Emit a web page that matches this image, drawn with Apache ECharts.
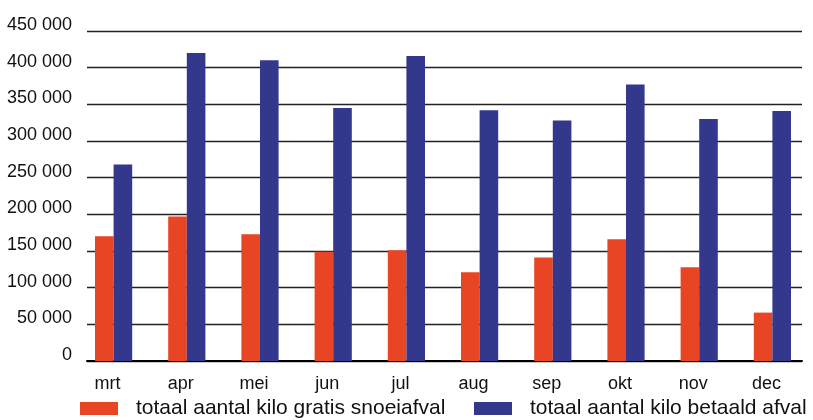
<!DOCTYPE html>
<html>
<head>
<meta charset="utf-8">
<script src="https://cdn.jsdelivr.net/npm/echarts@6/dist/echarts.min.js"></script>
<style>
  html, body { margin: 0; padding: 0; background: #fff; }
  #chart { width: 813px; height: 420px; }
</style>
</head>
<body>
<div id="chart"></div>
<script>
var months = ['mrt', 'apr', 'mei', 'jun', 'jul', 'aug', 'sep', 'okt', 'nov', 'dec'];
var gratisSnoei = [170000, 197000, 173000, 149000, 151000, 121000, 141000, 166000, 128000, 66000];
var betaaldAfval = [268000, 420000, 410000, 345000, 416000, 342000, 328000, 377000, 330000, 341000];
var seriesNames = ['totaal aantal kilo gratis snoeiafval', 'totaal aantal kilo betaald afval'];
var yMax = 450000;
var yStep = 50000;

var font = '"Liberation Sans", Arial, sans-serif';

var chart = echarts.init(document.getElementById('chart'));
var option = {
    backgroundColor: '#fff',
    animation: false,
    grid: [
        // gridlines + y labels
        { left: 87, right: 11, top: 31, bottom: 59 },
        // bars
        { left: 77, right: 4, top: 31, bottom: 59 }
    ],
    legend: [{
        data: [seriesNames[0]],
        left: 80, top: 398,
        padding: 0,
        itemWidth: 38, itemHeight: 13,
        icon: 'rect',
        textStyle: { fontFamily: font, fontSize: 21, color: '#111', padding: [0, 0, 0, 13] }
    }, {
        data: [seriesNames[1]],
        left: 474, top: 398,
        padding: 0,
        itemWidth: 38, itemHeight: 13,
        icon: 'rect',
        textStyle: { fontFamily: font, fontSize: 21, color: '#111', padding: [0, 0, 0, 13] }
    }],
    xAxis: [{
        gridIndex: 0,
        type: 'category',
        data: months,
        axisLine: { lineStyle: { color: '#000', width: 2 } },
        axisTick: { show: false },
        axisLabel: { show: false }
    }, {
        gridIndex: 1,
        type: 'category',
        data: months,
        axisLine: { show: false },
        axisTick: { show: false },
        axisLabel: {
            fontFamily: font, fontSize: 18, color: '#111',
            margin: 14, padding: [0, 12, 0, 0]
        }
    }],
    yAxis: [{
        gridIndex: 0,
        type: 'value',
        min: 0, max: yMax, interval: yStep,
        axisLine: { show: false },
        axisTick: { show: false },
        splitLine: { lineStyle: { color: '#222', width: 1.3 } },
        axisLabel: {
            fontFamily: font, fontSize: 18, color: '#111',
            margin: 15,
            verticalAlign: 'bottom',
            lineHeight: 12,
            formatter: function (v) {
                return String(v).replace(/\B(?=(\d{3})+(?!\d))/g, ' ');
            }
        }
    }, {
        gridIndex: 1,
        type: 'value',
        min: 0, max: yMax, interval: yStep,
        show: false
    }],
    series: [{
        name: seriesNames[0],
        type: 'bar',
        xAxisIndex: 1, yAxisIndex: 1,
        data: gratisSnoei,
        barWidth: 18.6,
        barGap: '0%',
        itemStyle: { color: '#E84525' }
    }, {
        name: seriesNames[1],
        type: 'bar',
        xAxisIndex: 1, yAxisIndex: 1,
        data: betaaldAfval,
        barWidth: 18.6,
        barGap: '0%',
        itemStyle: { color: '#33388C' }
    }]
};
chart.setOption(option);
</script>
</body>
</html>
